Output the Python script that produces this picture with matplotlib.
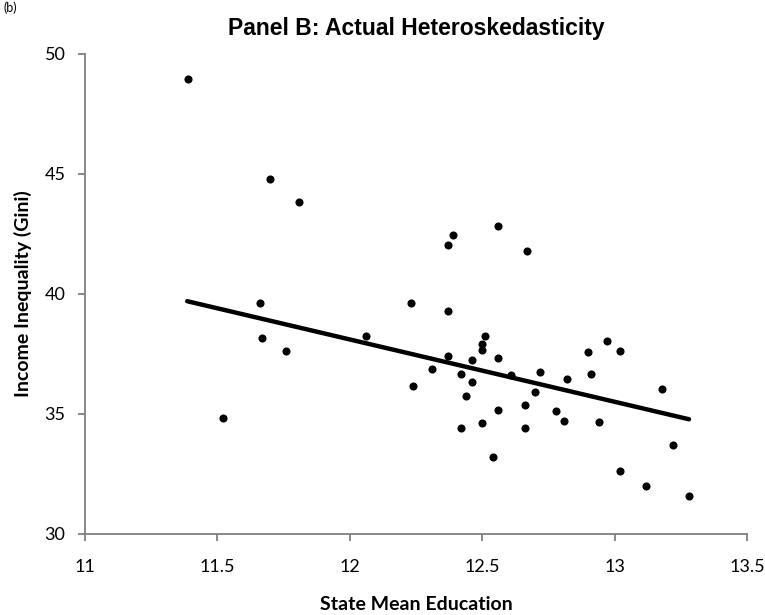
import numpy as np
import matplotlib
matplotlib.use('Agg')
import matplotlib.pyplot as plt

# state mean education (x) and Gini (y)
education = [11.39, 11.70, 11.81, 11.66, 11.67, 11.76, 11.52, 12.39, 12.37, 12.56,
             12.67, 12.23, 12.37, 12.06, 12.51, 12.50, 12.50, 12.37, 12.56, 12.46,
             12.31, 12.42, 12.61, 12.46, 12.24, 12.44, 12.56, 12.66, 12.50, 12.42,
             12.66, 12.54, 12.97, 12.90, 13.02, 12.72, 12.82, 12.91, 13.18, 12.70,
             12.78, 12.81, 12.94, 13.22, 13.02, 13.12, 13.28]
gini = [48.95, 44.80, 43.82, 39.64, 38.17, 37.64, 34.85, 42.45, 42.03, 42.83,
        41.78, 39.61, 39.30, 38.24, 38.26, 37.92, 37.65, 37.42, 37.35, 37.24,
        36.86, 36.65, 36.61, 36.35, 36.18, 35.75, 35.18, 35.36, 34.64, 34.42,
        34.40, 33.20, 38.05, 37.57, 37.64, 36.76, 36.46, 36.67, 36.03, 35.90,
        35.11, 34.70, 34.65, 33.71, 32.63, 32.01, 31.60]

# fitted line end points
trend_x = [11.386, 13.281]
trend_y = [39.70, 34.78]

x_ticks = [11, 11.5, 12, 12.5, 13, 13.5]
y_ticks = [30, 35, 40, 45, 50]

label_font = ['Lato', 'DejaVu Sans']
spine_col = '#7f7f7f'

fig = plt.figure(figsize=(7.65, 6.15), dpi=100)
ax = fig.add_axes([85 / 765, 1 - 534 / 615, (747 - 85) / 765, (534 - 54) / 615])

ax.scatter(education, gini, s=34, color='black', zorder=3, linewidths=0)
ax.plot(trend_x, trend_y, color='black', lw=3.2, solid_capstyle='round', zorder=2)

ax.set_xlim(11, 13.5)
ax.set_ylim(30, 50)
ax.set_xticks(x_ticks)
ax.set_xticklabels([f'{v:g}' for v in x_ticks])
ax.set_yticks(y_ticks)

for side in ['top', 'right']:
    ax.spines[side].set_visible(False)
for side in ['left', 'bottom']:
    ax.spines[side].set_color(spine_col)
    ax.spines[side].set_linewidth(1.3)

ax.tick_params(axis='both', direction='out', length=5, width=1.3, color=spine_col,
               labelsize=13, labelcolor='black')
ax.tick_params(axis='x', pad=13)
ax.tick_params(axis='y', pad=9)
for lbl in ax.get_xticklabels() + ax.get_yticklabels():
    lbl.set_family(label_font)

ax.set_title('Panel B: Actual Heteroskedasticity', fontsize=16.5, fontweight='bold',
             family=['Liberation Sans', 'DejaVu Sans'], pad=14)
ax.set_xlabel('State Mean Education', fontsize=14, fontweight='bold', family=label_font, labelpad=15)
ax.set_ylabel('Income Inequality (Gini)', fontsize=14, fontweight='bold', family=label_font, labelpad=9)

fig.text(0.004, 0.998, '(b)', fontsize=9, va='top', ha='left', family=label_font)

fig.savefig('out.png', dpi=100)
